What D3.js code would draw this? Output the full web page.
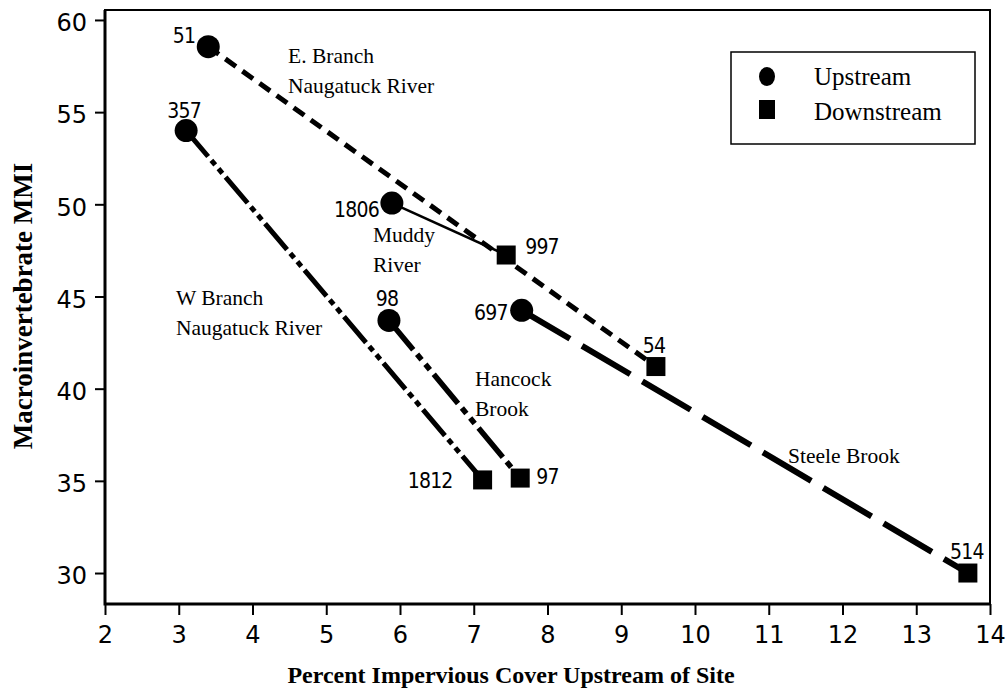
<!DOCTYPE html>
<html>
<head>
<meta charset="utf-8">
<script src="https://cdn.jsdelivr.net/npm/d3@7/dist/d3.min.js"></script>
<style>
  html, body { margin: 0; padding: 0; background: #fff; }
  svg { display: block; }
</style>
</head>
<body>
<svg id="chart" width="1006" height="692"></svg>
<script>
// Sampling sites along tributaries of the Naugatuck River
const sites = ["E. Branch Naugatuck River", "Muddy River", "W Branch Naugatuck River", "Hancock Brook", "Steele Brook"];
const upstreamCover   = [3.40, 5.89, 3.10, 5.85, 7.65];
const upstreamMMI     = [58.55, 50.07, 54.00, 43.70, 44.25];
const downstreamCover = [9.47, 7.44, 7.12, 7.63, 13.70];
const downstreamMMI   = [41.20, 47.25, 35.05, 35.15, 30.00];
const upstreamIds     = ["51", "1806", "357", "98", "697"];
const downstreamIds   = ["54", "997", "1812", "97", "514"];
const siteLabelLines  = [["E. Branch", "Naugatuck River"], ["Muddy", "River"], ["W Branch", "Naugatuck River"], ["Hancock", "Brook"], ["Steele Brook"]];
const xTicks = [2, 3, 4, 5, 6, 7, 8, 9, 10, 11, 12, 13, 14];
const yTicks = [30, 35, 40, 45, 50, 55, 60];
const legendLabels = ["Upstream", "Downstream"];
const xTitle = "Percent Impervious Cover Upstream of Site";
const yTitle = "Macroinvertebrate MMI";

// Layout and styling
const plot = { left: 105, right: 990, top: 10, bottom: 604 };
const lineStyles = [
  { width: 5,   dash: "13,8" },
  { width: 2.5, dash: null },
  { width: 5,   dash: "34,5,6,5,6,5" },
  { width: 5.5, dash: "38,6,7,6,7,6" },
  { width: 6,   dash: "56,14" }
];
// id label placement relative to its marker: [anchor, dx, dy]
const upLabelPos   = [["end", -13, -4], ["end", -13, 14], ["middle", -2, -13], ["middle", -2, -14], ["end", -14, 10]];
const downLabelPos = [["middle", -2, -14], ["start", 19, -1], ["end", -30, 8], ["start", 16, 6], ["middle", -1, -14]];
// site name placement [x, first baseline]
const siteLabelPos = [[288, 63], [373, 242], [176, 305], [475, 386], [788, 463]];

const svg = d3.select("#chart");
const x = d3.scaleLinear().domain([2, 14]).range([plot.left, plot.right]);
const y = d3.scaleLinear().domain([28.32, 60.54]).range([plot.bottom, plot.top]);

const serif = "'Liberation Serif', 'Times New Roman', serif";
const sans = "'DejaVu Sans', Verdana, sans-serif";
const sansCond = "'DejaVu Sans Condensed', 'DejaVu Sans', sans-serif";

// Axes
const yAxis = svg.append("g")
  .attr("transform", `translate(${plot.left},0)`)
  .call(d3.axisLeft(y).tickValues(yTicks).tickSize(10).tickPadding(8).tickSizeOuter(0));
const xAxis = svg.append("g")
  .attr("transform", `translate(0,${plot.bottom})`)
  .call(d3.axisBottom(x).tickValues(xTicks).tickSize(11).tickPadding(11).tickSizeOuter(0));
[xAxis, yAxis].forEach(g => {
  g.select(".domain").remove();
  g.selectAll(".tick line").attr("stroke", "#000").attr("stroke-width", 2);
  g.selectAll(".tick text")
    .attr("fill", "#000")
    .style("font-family", sans)
    .style("font-size", "24px");
});
yAxis.selectAll(".tick text").attr("dy", "0.45em");

// Plot frame
svg.append("rect")
  .attr("x", plot.left).attr("y", plot.top)
  .attr("width", plot.right - plot.left).attr("height", plot.bottom - plot.top)
  .attr("fill", "none").attr("stroke", "#000").attr("stroke-width", 2);
svg.append("path")
  .attr("d", `M${plot.left},${plot.top}V${plot.bottom}H${plot.right}`)
  .attr("fill", "none").attr("stroke", "#000").attr("stroke-width", 3);

// Axis titles
svg.append("text")
  .attr("x", 511).attr("y", 683)
  .attr("text-anchor", "middle")
  .style("font-family", serif).style("font-weight", "bold").style("font-size", "24px")
  .text(xTitle);
svg.append("text")
  .attr("transform", "translate(32,306) rotate(-90)")
  .attr("text-anchor", "middle")
  .style("font-family", serif).style("font-weight", "bold").style("font-size", "27px")
  .text(yTitle);

// Connecting lines upstream -> downstream
const line = d3.line().x(d => x(d[0])).y(d => y(d[1]));
sites.forEach((s, i) => {
  const pts = [[upstreamCover[i], upstreamMMI[i]], [downstreamCover[i], downstreamMMI[i]]];
  svg.append("path")
    .datum(pts)
    .attr("d", line)
    .attr("fill", "none")
    .attr("stroke", "#000")
    .attr("stroke-width", lineStyles[i].width)
    .attr("stroke-dasharray", lineStyles[i].dash);
});

// Markers
svg.selectAll("circle.up")
  .data(sites.map((s, i) => i))
  .join("circle")
  .attr("class", "up")
  .attr("cx", i => x(upstreamCover[i]))
  .attr("cy", i => y(upstreamMMI[i]))
  .attr("r", 11.5)
  .attr("fill", "#000");
const sq = 19;
svg.selectAll("rect.down")
  .data(sites.map((s, i) => i))
  .join("rect")
  .attr("class", "down")
  .attr("x", i => x(downstreamCover[i]) - sq / 2)
  .attr("y", i => y(downstreamMMI[i]) - sq / 2)
  .attr("width", sq).attr("height", sq)
  .attr("fill", "#000");

// Site id labels
function idLabels(ids, xs, ys, pos) {
  ids.forEach((id, i) => {
    svg.append("text")
      .attr("x", x(xs[i]) + pos[i][1])
      .attr("y", y(ys[i]) + pos[i][2])
      .attr("text-anchor", pos[i][0])
      .style("font-family", sansCond)
      .style("font-stretch", "condensed")
      .style("font-size", "21px")
      .style("letter-spacing", "-0.8px")
      .text(id);
  });
}
idLabels(upstreamIds, upstreamCover, upstreamMMI, upLabelPos);
idLabels(downstreamIds, downstreamCover, downstreamMMI, downLabelPos);

// Site names
siteLabelLines.forEach((lines, i) => {
  const t = svg.append("text")
    .style("font-family", serif).style("font-size", "21.5px");
  lines.forEach((ln, k) => {
    t.append("tspan")
      .attr("x", siteLabelPos[i][0])
      .attr("y", siteLabelPos[i][1] + k * 30)
      .text(ln);
  });
});

// Legend
const lg = svg.append("g");
lg.append("rect")
  .attr("x", 731).attr("y", 52).attr("width", 244).attr("height", 92)
  .attr("fill", "#fff").attr("stroke", "#000").attr("stroke-width", 1.5);
lg.append("ellipse").attr("cx", 767).attr("cy", 76.5).attr("rx", 8).attr("ry", 9.5).attr("fill", "#000");
lg.append("rect").attr("x", 759).attr("y", 100).attr("width", 16).attr("height", 19).attr("fill", "#000");
legendLabels.forEach((lab, k) => {
  lg.append("text")
    .attr("x", 814).attr("y", 85 + k * 35)
    .style("font-family", serif).style("font-size", "25px")
    .text(lab);
});
</script>
</body>
</html>
